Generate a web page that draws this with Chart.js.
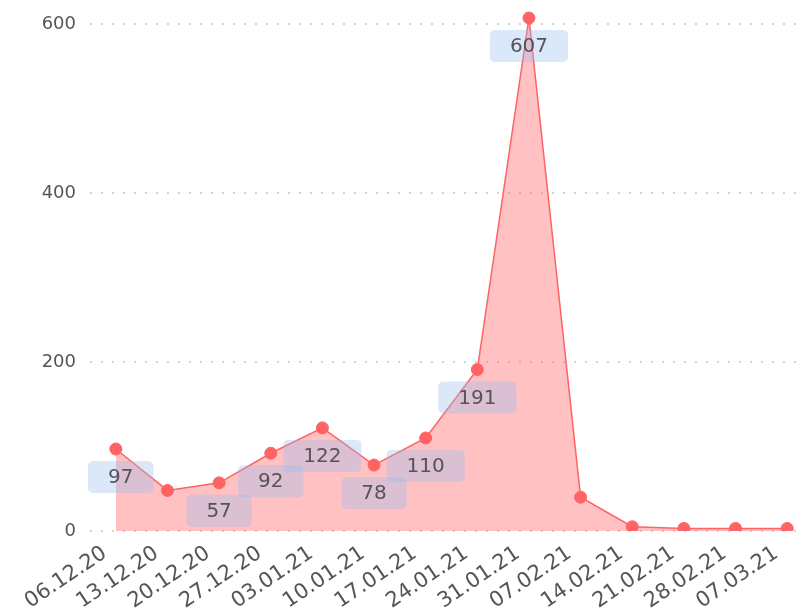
<!DOCTYPE html>
<html>
<head>
<meta charset="utf-8">
<script src="https://cdn.jsdelivr.net/npm/chart.js@4.4.0/dist/chart.umd.min.js"></script>
<style>
	html, body { margin: 0; padding: 0; background: #fff; overflow: hidden; }
	#canvas-wrap { position: relative; width: 822px; height: 614px; }
</style>
</head>
<body>
<div id="canvas-wrap"><canvas id="myChart"></canvas></div>
<script>
// valeurs
const semaines = ['06.12.20', '13.12.20', '20.12.20', '27.12.20', '03.01.21', '10.01.21', '17.01.21',
	'24.01.21', '31.01.21', '07.02.21', '14.02.21', '21.02.21', '28.02.21', '07.03.21'];
const cas = [97, 48, 57, 92, 122, 78, 110, 191, 607, 40, 5, 3, 3, 3];
const ticks_y = [0, 200, 400, 600];

const police = 'DejaVu Sans, Verdana, sans-serif';

// etiquettes sous les points (comme chartjs-plugin-datalabels)
const etiquettes = {
	id: 'etiquettes',
	afterDatasetsDraw: function(chart) {
		var ctx = chart.ctx;
		var meta = chart.getDatasetMeta(0);
		var zone = chart.chartArea;
		ctx.save();
		ctx.font = '20px ' + police;
		ctx.textAlign = 'center';
		ctx.textBaseline = 'middle';
		meta.data.forEach(function(pt, i) {
			var v = cas[i];
			if (v < 50) return;
			var txt = String(v);
			var w = ctx.measureText(txt).width + 40;
			var h = 32;
			var x = pt.x;
			if (x - w / 2 < zone.left - 2) x = zone.left - 2 + w / 2;
			var y = pt.y + 28;
			ctx.fillStyle = 'rgba(150, 190, 240, 0.35)';
			ctx.beginPath();
			ctx.roundRect(x - w / 2, y - h / 2, w, h, 5);
			ctx.fill();
			ctx.fillStyle = '#555';
			ctx.fillText(txt, x, y + 1);
		});
		ctx.restore();
	}
};

var ctx = document.getElementById('myChart').getContext('2d');

new Chart(ctx, {
	type: 'line',
	data: {
		labels: semaines,
		datasets: [{
			data: cas,
			borderColor: 'rgb(255, 99, 99)',
			backgroundColor: 'rgba(255, 99, 99, 0.4)',
			pointBackgroundColor: 'rgb(255, 99, 99)',
			pointBorderColor: 'rgb(255, 99, 99)',
			pointRadius: 6,
			pointBorderWidth: 1,
			borderWidth: 1.5,
			tension: 0,
			fill: 'origin'
		}]
	},
	options: {
		responsive: true,
		maintainAspectRatio: false,
		animation: false,
		layout: {
			padding: { top: 6, right: 9, bottom: 0, left: 0 }
		},
		scales: {
			x: {
				offset: true,
				grid: { display: false, drawTicks: false },
				border: { display: false },
				ticks: {
					autoSkip: false,
					maxRotation: 34,
					minRotation: 34,
					padding: 10,
					labelOffset: -11,
					color: '#555',
					font: { family: police, size: 21 }
				},
				afterFit: function(scale) {
					scale.height = 83;
					scale.paddingLeft = 0;
					scale.paddingRight = 0;
				}
			},
			y: {
				min: 0,
				max: 620,
				grid: {
					color: '#d4d4d4',
					lineWidth: 2,
					drawTicks: false
				},
				border: { display: false, dash: [2, 9] },
				ticks: {
					padding: 14,
					color: '#555',
					font: { family: police, size: 18 }
				},
				afterBuildTicks: function(scale) {
					scale.ticks = ticks_y.map(function(v) { return { value: v }; });
				},
				afterFit: function(scale) {
					scale.width = 90;
					scale.paddingTop = 0;
					scale.paddingBottom = 0;
				}
			}
		},
		plugins: {
			legend: { display: false },
			tooltip: { enabled: false }
		}
	},
	plugins: [etiquettes]
});
</script>
</body>
</html>
